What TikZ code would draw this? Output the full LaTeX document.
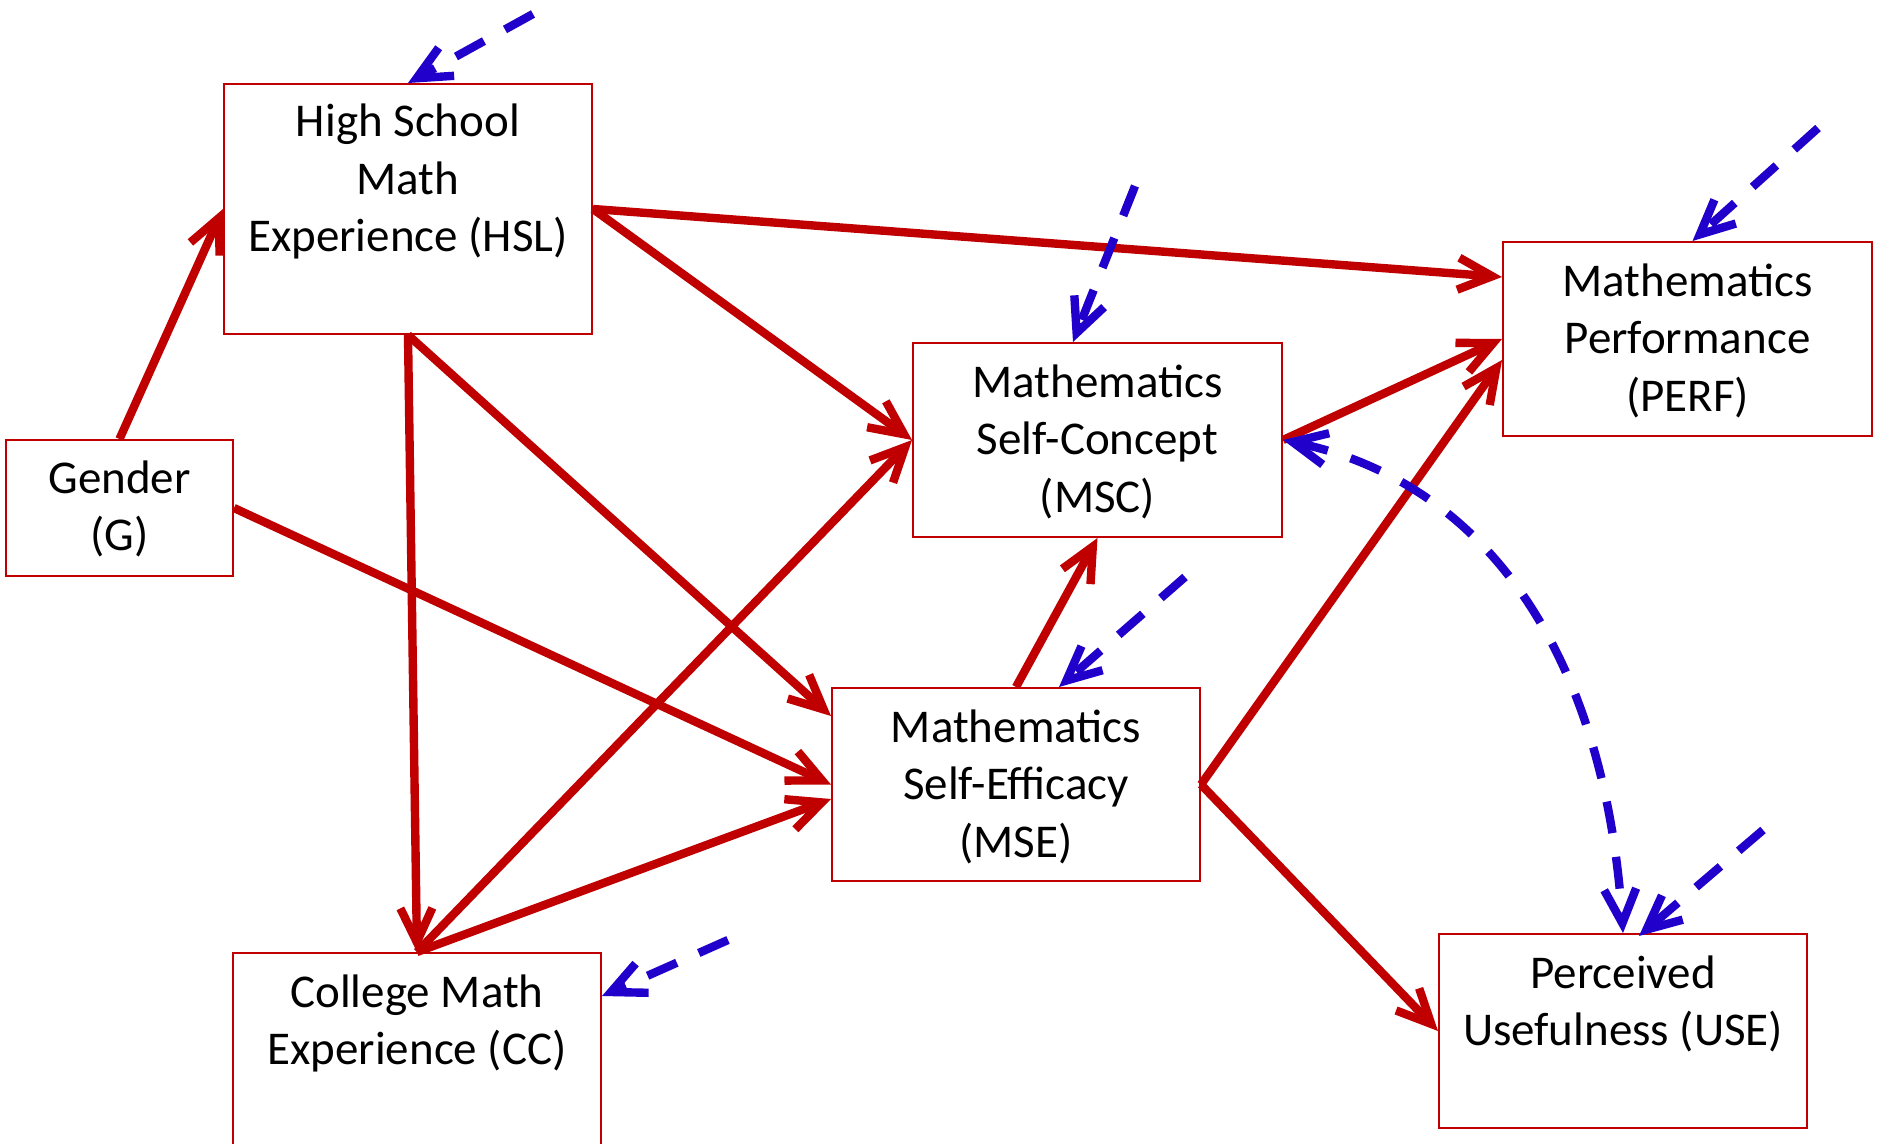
\documentclass[tikz,border=0pt]{standalone}
\usepackage{fontspec}
\setmainfont{Carlito}
\usetikzlibrary{arrows.meta,calc}
\definecolor{dred}{RGB}{192,0,0}
\definecolor{eblue}{RGB}{34,0,204}
\begin{document}
\begin{tikzpicture}[x=0.5pt,y=-0.5pt,
  box/.style={draw=dred, line width=1pt, rectangle, inner sep=0pt},
  lbl/.style={font=\fontsize{23.5}{28.75}\selectfont, align=center, anchor=base, inner sep=0pt},
  effect/.style={draw=dred, line width=4.2pt, -{Straight Barb[length=17pt,width=16pt]}},
  err/.style={draw=eblue, line width=4.2pt, dash pattern=on 16pt off 12pt, -{Straight Barb[length=17pt,width=16pt]}},
  errboth/.style={draw=eblue, line width=4.2pt, dash pattern=on 16pt off 12pt, {Straight Barb[length=17pt,width=16pt]}-{Straight Barb[length=17pt,width=16pt]}}]
\fill[white] (0,0) rectangle (1878,1144);
\useasboundingbox (0,0) rectangle (1878,1144);

% boxes
\node[box, minimum width=184pt, minimum height=125pt] (hsl) at (408,209) {};
\node[box, minimum width=113.5pt, minimum height=68pt] (gen) at (119.5,508) {};
\node[box, minimum width=184.5pt, minimum height=97pt] (msc) at (1097.5,440) {};
\node[box, minimum width=184.5pt, minimum height=97pt] (perf) at (1687.5,339) {};
\node[box, minimum width=184pt, minimum height=96.5pt] (mse) at (1016,784.5) {};
\node[box, minimum width=184pt, minimum height=97pt] (use) at (1623,1031) {};
\node[box, minimum width=184pt, minimum height=97.5pt] (cc) at (417,1050.5) {};

% labels (anchored at the baseline of the last line)
\node[lbl] (hslt) at (408,252) {High School\\Math\\Experience (HSL)};
\node[lbl] (gent) at (119.5,550.5) {Gender\\(G)};
\node[lbl] (msct) at (1097.5,512) {Mathematics\\Self-Concept\\(MSC)};
\node[lbl] (perft) at (1687.5,411) {Mathematics\\Performance\\(PERF)};
\node[lbl] (mset) at (1016,857) {Mathematics\\Self-Efficacy\\(MSE)};
\node[lbl] (uset) at (1623,1045.5) {Perceived\\Usefulness (USE)};
\node[lbl] (cct) at (417,1064.5) {College Math\\Experience (CC)};

% structural paths
\draw[effect] (gen.north) -- (hsl.west);
\draw[effect] (hsl.east) -- ([yshift=31pt]perf.west);
\draw[effect] (hsl.east) -- (msc.west);
\draw[effect] (hsl.south) -- (cc.north);
\draw[effect] (hsl.south) -- ([yshift=34.25pt]mse.west);
\draw[effect] (gen.east) -- (mse.west);
\draw[effect] (cc.north) -- (msc.west);
\draw[effect] (cc.north) -- ([yshift=-7.25pt]mse.west);
\draw[effect] (mse.north) -- (msc.south);
\draw[effect] (msc.east) -- (perf.west);
\draw[effect] (mse.east) -- ([yshift=-10.5pt]perf.west);
\draw[effect] (mse.east) -- (use.west);

% error terms
\coordinate (ehsl) at (533,14);
\coordinate (emsc) at (1135,186);
\coordinate (eperf) at (1818,128);
\coordinate (emse) at (1185,577);
\coordinate (ecc) at (728,940);
\coordinate (euse) at (1763,830);
\draw[err] (ehsl) -- (hsl.north);
\draw[err] (emsc) -- ([xshift=-12.25pt]msc.north);
\draw[err] (eperf) -- ([xshift=2.5pt]perf.north);
\draw[err] (emse) -- ([xshift=21.5pt]mse.north);
\draw[err] (ecc) -- ([yshift=27.25pt]cc.east);
\draw[err] (euse) -- ([xshift=8pt,yshift=-1.5pt]use.north);

% covariance
\draw[errboth] (msc.east) .. controls (1486,482) and (1605,655) .. (use.north);
\end{tikzpicture}
\end{document}
